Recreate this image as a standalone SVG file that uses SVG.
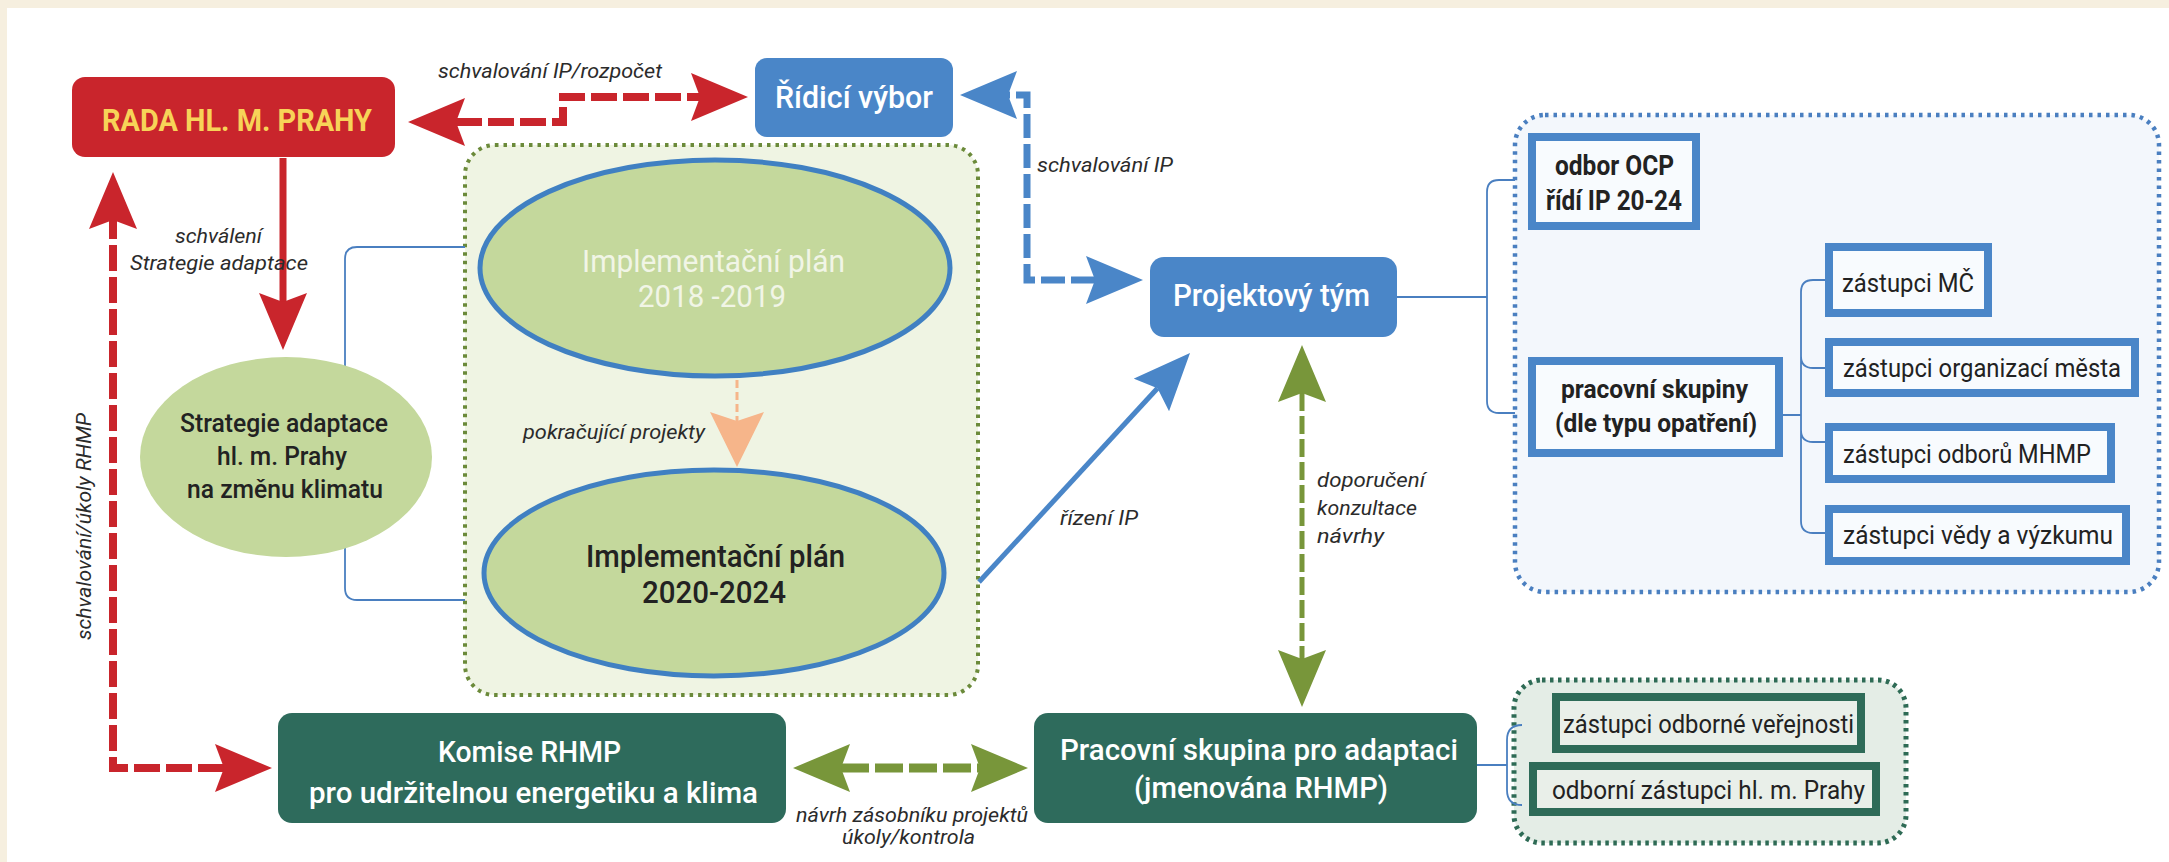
<svg xmlns="http://www.w3.org/2000/svg" width="2169" height="862" viewBox="0 0 2169 862">
<style>
.t{font-family:Roboto,"Liberation Sans",sans-serif;}
.lbl{font-family:Roboto,"Liberation Sans",sans-serif;font-style:italic;font-size:21px;fill:#2b2b2b;}
.wt{fill:#ffffff;}
.dk{fill:#222222;}
.redd{fill:none;stroke:#c9252c;stroke-width:8;stroke-dasharray:26 6;}
.blued{fill:none;stroke:#4a86c8;stroke-width:7;stroke-dasharray:24 6;}
.greend{fill:none;stroke:#78963a;}
.thin{fill:none;stroke:#4a7fc0;stroke-width:1.8;}
.bbox{fill:#f8fbfe;stroke:#4a86c8;stroke-width:8;}
.gbox{fill:#e9efe9;stroke:#2e6b58;stroke-width:8;}
</style>
<defs>
<marker id="mRed" markerUnits="userSpaceOnUse" markerWidth="60" markerHeight="50" refX="9" refY="24" orient="auto-start-reverse" viewBox="0 0 60 50"><path d="M0,0 L57,24 L0,48 L9,24 Z" fill="#c9252c"/></marker>
<marker id="mBlue" markerUnits="userSpaceOnUse" markerWidth="60" markerHeight="50" refX="9" refY="24" orient="auto-start-reverse" viewBox="0 0 60 50"><path d="M0,0 L57,24 L0,48 L9,24 Z" fill="#4a86c8"/></marker>
<marker id="mGreen" markerUnits="userSpaceOnUse" markerWidth="60" markerHeight="50" refX="9" refY="24" orient="auto-start-reverse" viewBox="0 0 60 50"><path d="M0,0 L57,24 L0,48 L9,24 Z" fill="#78963a"/></marker>
<marker id="mOrange" markerUnits="userSpaceOnUse" markerWidth="60" markerHeight="56" refX="9" refY="27" orient="auto" viewBox="0 0 60 56"><path d="M0,0 L55,27 L0,54 L9,27 Z" fill="#f6b58a"/></marker>
</defs>

<rect x="0" y="0" width="2169" height="862" fill="#f6efdf"/>
<rect x="7" y="8" width="2162" height="854" fill="#ffffff"/>

<!-- containers -->
<g id="container-ip">
<rect x="465" y="145" width="513" height="550" rx="30" fill="#eff4e3" stroke="#6b8a3a" stroke-width="4" stroke-dasharray="3.5 5"/>
</g>
<g id="container-team">
<rect x="1515" y="115" width="644" height="477" rx="30" fill="#f3f7fc" stroke="#4a7fc0" stroke-width="4.5" stroke-dasharray="3.5 5"/>
</g>
<g id="container-adapt">
<rect x="1514" y="680" width="392" height="163" rx="28" fill="#e4ede6" stroke="#2e6b55" stroke-width="5" stroke-dasharray="3.5 4.5"/>
</g>

<!-- connectors -->
<g id="connectors">
<path class="thin" d="M465,247 H357 Q345,247 345,259 V588 Q345,600 357,600 H465"/>
<path class="thin" d="M1397,297 H1487 M1515,180 H1499 Q1487,180 1487,192 V401 Q1487,413 1499,413 H1515"/>
<path class="thin" d="M1783,415 H1801 M1825,280 H1813 Q1801,280 1801,292 V521 Q1801,533 1813,533 H1825 M1801,356 Q1801,368 1813,368 H1825 M1801,430 Q1801,442 1813,442 H1825"/>
<path class="thin" d="M1477,765 H1507 M1522,725 Q1507,725 1507,740 V790 Q1507,805 1522,805"/>

<path class="redd" d="M456,122 H563 V97 H700" marker-start="url(#mRed)" marker-end="url(#mRed)"/>
<path d="M283,158 V302" fill="none" stroke="#c9252c" stroke-width="7" marker-end="url(#mRed)"/>
<path class="redd" d="M224,768 H113 V220" marker-start="url(#mRed)" marker-end="url(#mRed)"/>

<path class="blued" d="M1095,280 H1027 V95 H1008" marker-start="url(#mBlue)" marker-end="url(#mBlue)"/>
<path d="M979,582 L1157.5,388.3" fill="none" stroke="#4a86c8" stroke-width="5" marker-end="url(#mBlue)"/>

<path d="M737,380 V421" fill="none" stroke="#f6b58a" stroke-width="3" stroke-dasharray="8 4" marker-end="url(#mOrange)"/>

<path class="greend" d="M1302,393 V659" stroke-width="5" stroke-dasharray="18 5" marker-start="url(#mGreen)" marker-end="url(#mGreen)"/>
<path class="greend" d="M841,768 H980" stroke-width="9" stroke-dasharray="28 6" marker-start="url(#mGreen)" marker-end="url(#mGreen)"/>

<text class="lbl" x="438" y="78" textLength="224" lengthAdjust="spacingAndGlyphs">schvalování IP/rozpočet</text>
<text class="lbl" x="1037" y="172" textLength="136" lengthAdjust="spacingAndGlyphs">schvalování IP</text>
<text class="lbl" x="175" y="243" textLength="87" lengthAdjust="spacingAndGlyphs">schválení</text>
<text class="lbl" x="130" y="270" textLength="178" lengthAdjust="spacingAndGlyphs">Strategie adaptace</text>
<text class="lbl" x="523" y="439" textLength="182" lengthAdjust="spacingAndGlyphs">pokračující projekty</text>
<text class="lbl" x="1060" y="525" textLength="78" lengthAdjust="spacingAndGlyphs">řízení IP</text>
<text class="lbl" x="1317" y="487" textLength="108" lengthAdjust="spacingAndGlyphs">doporučení</text>
<text class="lbl" x="1317" y="515" textLength="100" lengthAdjust="spacingAndGlyphs">konzultace</text>
<text class="lbl" x="1317" y="543" textLength="67" lengthAdjust="spacingAndGlyphs">návrhy</text>
<text class="lbl" x="796" y="822" textLength="232" lengthAdjust="spacingAndGlyphs">návrh zásobníku projektů</text>
<text class="lbl" x="842" y="844" textLength="133" lengthAdjust="spacingAndGlyphs">úkoly/kontrola</text>
<text class="lbl" transform="translate(91,640) rotate(-90)" x="0" y="0" textLength="227" lengthAdjust="spacingAndGlyphs">schvalování/úkoly RHMP</text>
</g>

<!-- nodes -->
<g id="rada">
<rect x="72" y="77" width="323" height="80" rx="13" fill="#c9252c"/>
<text class="t" x="102" y="131" font-size="32" font-weight="700" fill="#f7d358" textLength="270" lengthAdjust="spacingAndGlyphs">RADA HL. M. PRAHY</text>
</g>
<g id="ridici-vybor">
<rect x="755" y="58" width="198" height="79" rx="12" fill="#4a86c8"/>
<text class="t wt" x="775" y="108" font-size="31" font-weight="500" textLength="158" lengthAdjust="spacingAndGlyphs">Řídicí výbor</text>
</g>
<g id="projektovy-tym">
<rect x="1150" y="257" width="247" height="80" rx="14" fill="#4a86c8"/>
<text class="t wt" x="1173" y="306" font-size="31" font-weight="500" textLength="197" lengthAdjust="spacingAndGlyphs">Projektový tým</text>
</g>
<g id="strategie">
<ellipse cx="286" cy="457" rx="146" ry="100" fill="#c4d89c"/>
<text class="t dk" x="180" y="432" font-size="26" font-weight="500" textLength="208" lengthAdjust="spacingAndGlyphs">Strategie adaptace</text>
<text class="t dk" x="217" y="465" font-size="26" font-weight="500" textLength="130" lengthAdjust="spacingAndGlyphs">hl. m. Prahy</text>
<text class="t dk" x="187" y="498" font-size="26" font-weight="500" textLength="196" lengthAdjust="spacingAndGlyphs">na změnu klimatu</text>
</g>
<g id="ip-2018">
<ellipse cx="715" cy="268" rx="235" ry="108" fill="#c4d89c" stroke="#4080c2" stroke-width="5"/>
<text class="t" x="582" y="272" font-size="32" fill="#f1f5e6" textLength="263" lengthAdjust="spacingAndGlyphs">Implementační plán</text>
<text class="t" x="638" y="307" font-size="32" fill="#f1f5e6" textLength="148" lengthAdjust="spacingAndGlyphs">2018 -2019</text>
</g>
<g id="ip-2020">
<ellipse cx="714" cy="573" rx="230" ry="103" fill="#c4d89c" stroke="#4080c2" stroke-width="5"/>
<text class="t dk" x="586" y="567" font-size="32" font-weight="500" textLength="259" lengthAdjust="spacingAndGlyphs">Implementační plán</text>
<text class="t dk" x="642" y="603" font-size="32" font-weight="500" textLength="144" lengthAdjust="spacingAndGlyphs">2020-2024</text>
</g>
<g id="komise">
<rect x="278" y="713" width="508" height="110" rx="14" fill="#2e6b5c"/>
<text class="t wt" x="438" y="762" font-size="30" font-weight="500" textLength="183" lengthAdjust="spacingAndGlyphs">Komise RHMP</text>
<text class="t wt" x="309" y="803" font-size="30" font-weight="500" textLength="449" lengthAdjust="spacingAndGlyphs">pro udržitelnou energetiku a klima</text>
</g>
<g id="pracovni-skupina">
<rect x="1034" y="713" width="443" height="110" rx="14" fill="#2e6b5c"/>
<text class="t wt" x="1060" y="760" font-size="30" font-weight="500" textLength="398" lengthAdjust="spacingAndGlyphs">Pracovní skupina pro adaptaci</text>
<text class="t wt" x="1134" y="798" font-size="30" font-weight="500" textLength="254" lengthAdjust="spacingAndGlyphs">(jmenována RHMP)</text>
</g>
<g id="odbor-ocp">
<rect class="bbox" x="1532" y="137" width="164" height="89"/>
<text class="t dk" x="1555" y="175" font-size="27" font-weight="700" textLength="119" lengthAdjust="spacingAndGlyphs">odbor OCP</text>
<text class="t dk" x="1546" y="210" font-size="27" font-weight="700" textLength="136" lengthAdjust="spacingAndGlyphs">řídí IP 20-24</text>
</g>
<g id="pracovni-skupiny">
<rect class="bbox" x="1532" y="361" width="247" height="92"/>
<text class="t dk" x="1561" y="398" font-size="26" font-weight="700" textLength="187" lengthAdjust="spacingAndGlyphs">pracovní skupiny</text>
<text class="t dk" x="1555" y="432" font-size="26" font-weight="700" textLength="202" lengthAdjust="spacingAndGlyphs">(dle typu opatření)</text>
</g>
<g id="zastupci-mc">
<rect class="bbox" x="1829" y="247" width="159" height="66"/>
<text class="t dk" x="1842" y="292" font-size="25" textLength="132" lengthAdjust="spacingAndGlyphs">zástupci MČ</text>
</g>
<g id="zastupci-organizaci">
<rect class="bbox" x="1829" y="342" width="306" height="51"/>
<text class="t dk" x="1843" y="377" font-size="25" textLength="278" lengthAdjust="spacingAndGlyphs">zástupci organizací města</text>
</g>
<g id="zastupci-odboru">
<rect class="bbox" x="1829" y="427" width="282" height="52"/>
<text class="t dk" x="1843" y="463" font-size="25" textLength="248" lengthAdjust="spacingAndGlyphs">zástupci odborů MHMP</text>
</g>
<g id="zastupci-vedy">
<rect class="bbox" x="1829" y="509" width="297" height="52"/>
<text class="t dk" x="1843" y="544" font-size="25" textLength="270" lengthAdjust="spacingAndGlyphs">zástupci vědy a výzkumu</text>
</g>
<g id="zastupci-verejnosti">
<rect class="gbox" x="1556" y="697" width="305" height="52"/>
<text class="t dk" x="1563" y="733" font-size="25" textLength="291" lengthAdjust="spacingAndGlyphs">zástupci odborné veřejnosti</text>
</g>
<g id="zastupci-prahy">
<rect class="gbox" x="1533" y="766" width="343" height="46"/>
<text class="t dk" x="1552" y="799" font-size="25" textLength="313" lengthAdjust="spacingAndGlyphs">odborní zástupci hl. m. Prahy</text>
</g>
</svg>
